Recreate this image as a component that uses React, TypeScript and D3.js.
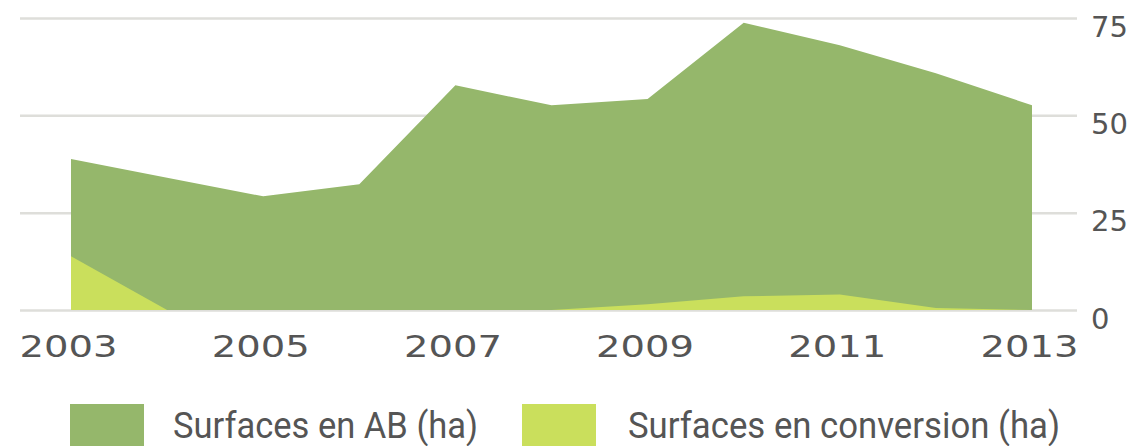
import { useEffect, useRef } from "react";
import * as d3 from "d3";

// surfaces bio (ha)
const years = [2003, 2004, 2005, 2006, 2007, 2008, 2009, 2010, 2011, 2012, 2013];
const surfacesAB = [25, 34, 29.2, 32.3, 57.7, 52.6, 52.7, 70.3, 64, 60.3, 52.6];
const surfacesConversion = [13.8, 0, 0, 0, 0, 0, 1.5, 3.5, 4, 0.5, 0];
const xTickYears = [2003, 2005, 2007, 2009, 2011, 2013];
const yTicks = [0, 25, 50, 75];
const legendLabels = ["Surfaces en AB (ha)", "Surfaces en conversion (ha)"];

interface Row {
  year: number;
  conversion: number;
  ab: number;
}

const W = 1141;
const H = 446;
const DARK = "#95b76b";
const LIGHT = "#cadf5c";

const App = () => {
  const ref = useRef<SVGSVGElement>(null);

  useEffect(() => {
    if (!ref.current) return;
    const svg = d3.select(ref.current);
    svg.selectAll("*").remove();

    const rows: Row[] = years.map((year, i) => ({
      year,
      conversion: surfacesConversion[i],
      ab: surfacesAB[i],
    }));

    const x = d3.scaleLinear().domain([2003, 2013]).range([71, 1032]);
    const y = d3.scaleLinear().domain([0, 75]).range([310, 18]);

    // grille + graduations a droite
    const yAxis = svg.append("g")
      .attr("transform", "translate(1077,0)")
      .call(d3.axisRight(y).tickValues(yTicks).tickSize(-1057).tickPadding(14));
    yAxis.select(".domain").remove();
    yAxis.selectAll(".tick line")
      .attr("stroke", "#dededa")
      .attr("stroke-width", 2.5);
    yAxis.selectAll(".tick text")
      .attr("dy", 18)
      .attr("fill", "#555")
      .attr("font-size", 29)
      .attr("font-family", "'DejaVu Sans', sans-serif");

    const stack = d3.stack<Row>().keys(["conversion", "ab"]);
    const series = stack(rows);

    const area = d3.area<d3.SeriesPoint<Row>>()
      .x(d => x(d.data.year))
      .y0(d => y(d[0]))
      .y1(d => y(d[1]));

    // surfaces AB (total empile), conversion par-dessus
    const totalArea = d3.area<d3.SeriesPoint<Row>>()
      .x(d => x(d.data.year))
      .y0(y(0))
      .y1(d => y(d[1]));

    svg.append("path")
      .datum(series[1])
      .attr("fill", DARK)
      .attr("d", totalArea);

    svg.append("path")
      .datum(series[0])
      .attr("fill", LIGHT)
      .attr("d", area);

    const xAxis = svg.append("g")
      .attr("transform", "translate(-3,0)")
      .call(d3.axisBottom(x).tickValues(xTickYears).tickFormat(d3.format("d")).tickSize(0));
    xAxis.select(".domain").remove();
    xAxis.selectAll(".tick text")
      .attr("y", 357)
      .attr("dy", 0)
      .attr("fill", "#555")
      .attr("font-size", 31)
      .attr("font-family", "'DejaVu Sans', sans-serif")
      .attr("textLength", 98)
      .attr("lengthAdjust", "spacingAndGlyphs");

    // legende
    const legend = [
      { label: legendLabels[0], color: DARK, x: 70, tx: 173, tw: 305 },
      { label: legendLabels[1], color: LIGHT, x: 522, tx: 628, tw: 432 },
    ];
    const lg = svg.append("g");
    lg.selectAll("rect")
      .data(legend)
      .join("rect")
      .attr("x", d => d.x)
      .attr("y", 404)
      .attr("width", 74)
      .attr("height", 42)
      .attr("fill", d => d.color);
    lg.selectAll("text")
      .data(legend)
      .join("text")
      .attr("x", d => d.tx)
      .attr("y", 438)
      .attr("fill", "#555")
      .attr("font-size", 36)
      .attr("font-family", "'Liberation Sans Narrow', Roboto, sans-serif")
      .attr("textLength", d => d.tw)
      .attr("lengthAdjust", "spacingAndGlyphs")
      .text(d => d.label);
  }, []);

  return (
    <svg
      ref={ref}
      width={W}
      height={H}
      style={{ position: "absolute", left: 0, top: 0, background: "#fff" }}
    />
  );
};

export default App;
